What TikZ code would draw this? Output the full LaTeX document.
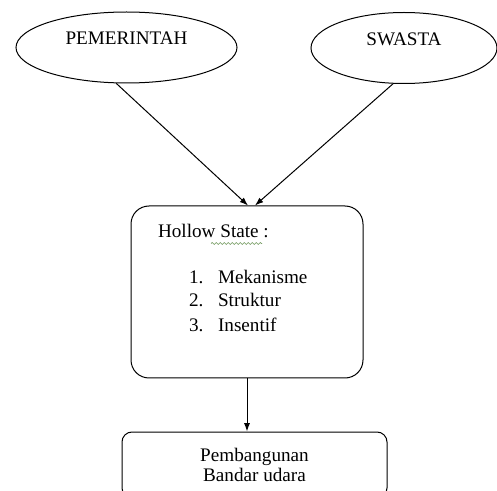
\documentclass[tikz,border=0pt]{standalone}
\usepackage{fontspec}
\setmainfont{Liberation Serif}
\usetikzlibrary{shapes.geometric, decorations.pathmorphing, arrows.meta}

\begin{document}
\begin{tikzpicture}[x=0.6pt, y=-0.6pt, line width=0.6pt, >={Latex[length=5pt, width=3.6pt]},
    font=\fontsize{11.5}{14}\selectfont,
    actor/.style={draw, ellipse, minimum height=42.6pt, text depth=10.8pt},
    item/.style={anchor=base west}]

    % Frame
    \useasboundingbox (0, 0) rectangle (497, 491);
    \clip (0, 0) rectangle (497, 491);

    % Nodes
    \node at (126.5, 47.5) (Gov) [actor, minimum width=132.6pt] {PEMERINTAH};
    \node at (404, 48) (Private) [actor, minimum width=111.6pt] {SWASTA};

    \node at (247, 292) (Hollow) [draw, rectangle, rounded corners=10.8pt, minimum width=139.2pt, minimum height=103.2pt] {};
    \node at (152, 238) (HollowTitle) [item] {Hollow State :};
    \node at (183, 283) (Item1) [item] {\makebox[17.4pt][l]{1.}Mekanisme};
    \node at (183, 307) (Item2) [item] {\makebox[17.4pt][l]{2.}Struktur};
    \node at (183, 331) (Item3) [item] {\makebox[17.4pt][l]{3.}Insentif};

    \node at (254.5, 465) (Airport) [draw, rectangle, rounded corners=6pt, minimum width=159pt, minimum height=39.6pt, align=center, font=\fontsize{11.5}{12}\selectfont] {Pembangunan\\Bandar udara};

    % Arrows
    \draw[->] (Gov.-106) -- ([xshift=0.6pt]Hollow.north);
    \draw[->] (Private.-107) -- ([xshift=4.8pt]Hollow.north);
    \draw[->] (Hollow.south) -- (Hollow.south |- Airport.north);

    % Spell check mark
    \draw[line width=0.4pt, color={rgb,255:red,110;green,150;blue,90}, decorate, decoration={snake, amplitude=0.6pt, segment length=2.4pt}] (211, 243.5) -- (262, 243.5);

\end{tikzpicture}
\end{document}
